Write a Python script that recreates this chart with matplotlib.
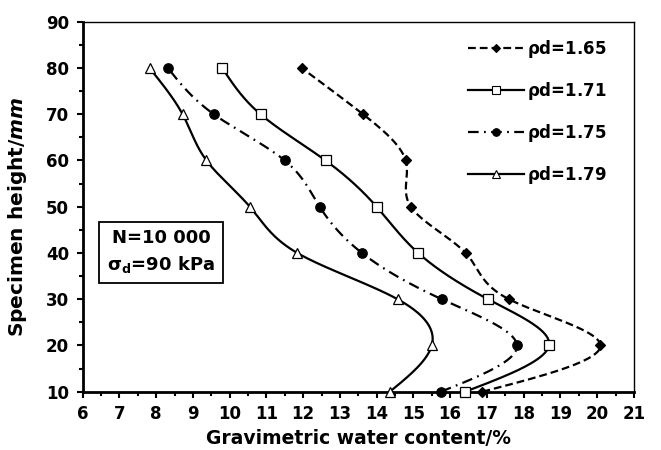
import numpy as np
import matplotlib
matplotlib.use("Agg")
import matplotlib.pyplot as plt
from matplotlib.lines import Line2D
from matplotlib.ticker import MultipleLocator

plt.rcParams['font.family'] = ['DejaVu Sans']
plt.rcParams['font.weight'] = 'bold'
plt.rcParams['mathtext.fontset'] = 'custom'
plt.rcParams['mathtext.rm'] = 'DejaVu Sans'
plt.rcParams['mathtext.it'] = 'DejaVu Sans:italic:bold'
plt.rcParams['mathtext.bf'] = 'DejaVu Sans:bold'

# specimen height (mm) and water content (%) for each dry density
heights = [10, 20, 30, 40, 50, 60, 70, 80]
w165 = [16.88, 20.09, 17.60, 16.42, 14.93, 14.79, 13.63, 11.96]
w171 = [16.41, 18.69, 17.03, 15.13, 14.00, 12.61, 10.84, 9.80]
w175 = [15.75, 17.82, 15.77, 13.60, 12.45, 11.50, 9.57, 8.32]
w179 = [14.36, 15.50, 14.57, 11.84, 10.55, 9.37, 8.72, 7.82]
labels = ['1.65', '1.71', '1.75', '1.79']


def spline(t, v, n=300):
    # natural cubic spline x(y), like Origin's spline connect
    t = np.asarray(t, float)
    v = np.asarray(v, float)
    h = np.diff(t)
    m = len(t)
    A = np.zeros((m, m))
    b = np.zeros(m)
    A[0, 0] = A[-1, -1] = 1
    for i in range(1, m - 1):
        A[i, i - 1] = h[i - 1]
        A[i, i] = 2 * (h[i - 1] + h[i])
        A[i, i + 1] = h[i]
        b[i] = 6 * ((v[i + 1] - v[i]) / h[i] - (v[i] - v[i - 1]) / h[i - 1])
    M = np.linalg.solve(A, b)
    tt = np.linspace(t[0], t[-1], n)
    k = np.clip(np.searchsorted(t, tt) - 1, 0, m - 2)
    a = t[k + 1] - tt
    c = tt - t[k]
    hk = h[k]
    vv = (M[k] * a ** 3 / (6 * hk) + M[k + 1] * c ** 3 / (6 * hk)
          + (v[k] / hk - M[k] * hk / 6) * a + (v[k + 1] / hk - M[k + 1] * hk / 6) * c)
    return tt, vv


styles = [
    dict(ls=(0, (3.5, 1.8)), marker='D', ms=5.6, mfc='black'),
    dict(ls='-', marker='s', ms=7.3, mfc='white'),
    dict(ls=(0, (4.8, 2.4, 0.8, 2.4)), marker='o', ms=6.8, mfc='black'),
    dict(ls='-', marker='^', ms=7.6, mfc='white'),
]

fig = plt.figure(figsize=(6.61, 4.5), dpi=100)
ax = fig.add_axes([0.125, 0.1296, 0.834, 0.822])

handles = []
for w, st, lab in zip([w165, w171, w175, w179], styles, labels):
    yy, xx = spline(heights, w)
    ax.plot(xx, yy, color='black', lw=1.6, ls=st['ls'], zorder=2)
    ax.plot(w, heights, ls='none', marker=st['marker'], ms=st['ms'],
            mfc=st['mfc'], mec='black', mew=0.9, clip_on=False, zorder=3)
    handles.append(Line2D([], [], color='black', lw=1.6, ls=st['ls'],
                          marker=st['marker'], ms=st['ms'] * 0.8,
                          mfc=st['mfc'], mec='black', mew=0.8,
                          label=r'$\mathrm{\rho}$d=' + lab))

ax.set_xlim(6, 21)
ax.set_ylim(10, 90)
ax.xaxis.set_major_locator(MultipleLocator(1))
ax.xaxis.set_minor_locator(MultipleLocator(0.5))
ax.yaxis.set_major_locator(MultipleLocator(10))
ax.yaxis.set_minor_locator(MultipleLocator(5))
ax.tick_params(which='both', direction='out', width=1.5, labelsize=12)
ax.tick_params(which='major', length=4.3, pad=5.5)
ax.tick_params(which='minor', length=3)
for s in ['left', 'bottom']:
    ax.spines[s].set_linewidth(2)
for s in ['top', 'right']:
    ax.spines[s].set_linewidth(1)

ax.set_xlabel('Gravimetric water content/%', fontsize=13.5, fontweight='bold', labelpad=4)
ax.set_ylabel('Specimen height/$mm$', fontsize=14.5, fontweight='bold')
ax.yaxis.set_label_coords(-0.097, 0.4735)

leg = ax.legend(handles=handles, loc='upper left', bbox_to_anchor=(0.677, 0.9875),
                frameon=False, fontsize=12, handlelength=3.4, handletextpad=0.15,
                labelspacing=1.2, borderpad=0.2)

ax.text(8.13, 40.2, 'N=10 000\n' + r'$\mathrm{\sigma}_\mathbf{d}$=90 kPa',
        fontsize=13, fontweight='bold', ha='center', va='center',
        linespacing=1.4,
        bbox=dict(boxstyle='square,pad=0.45', fc='white', ec='black', lw=1.3))

fig.savefig('out.png', dpi=100)
